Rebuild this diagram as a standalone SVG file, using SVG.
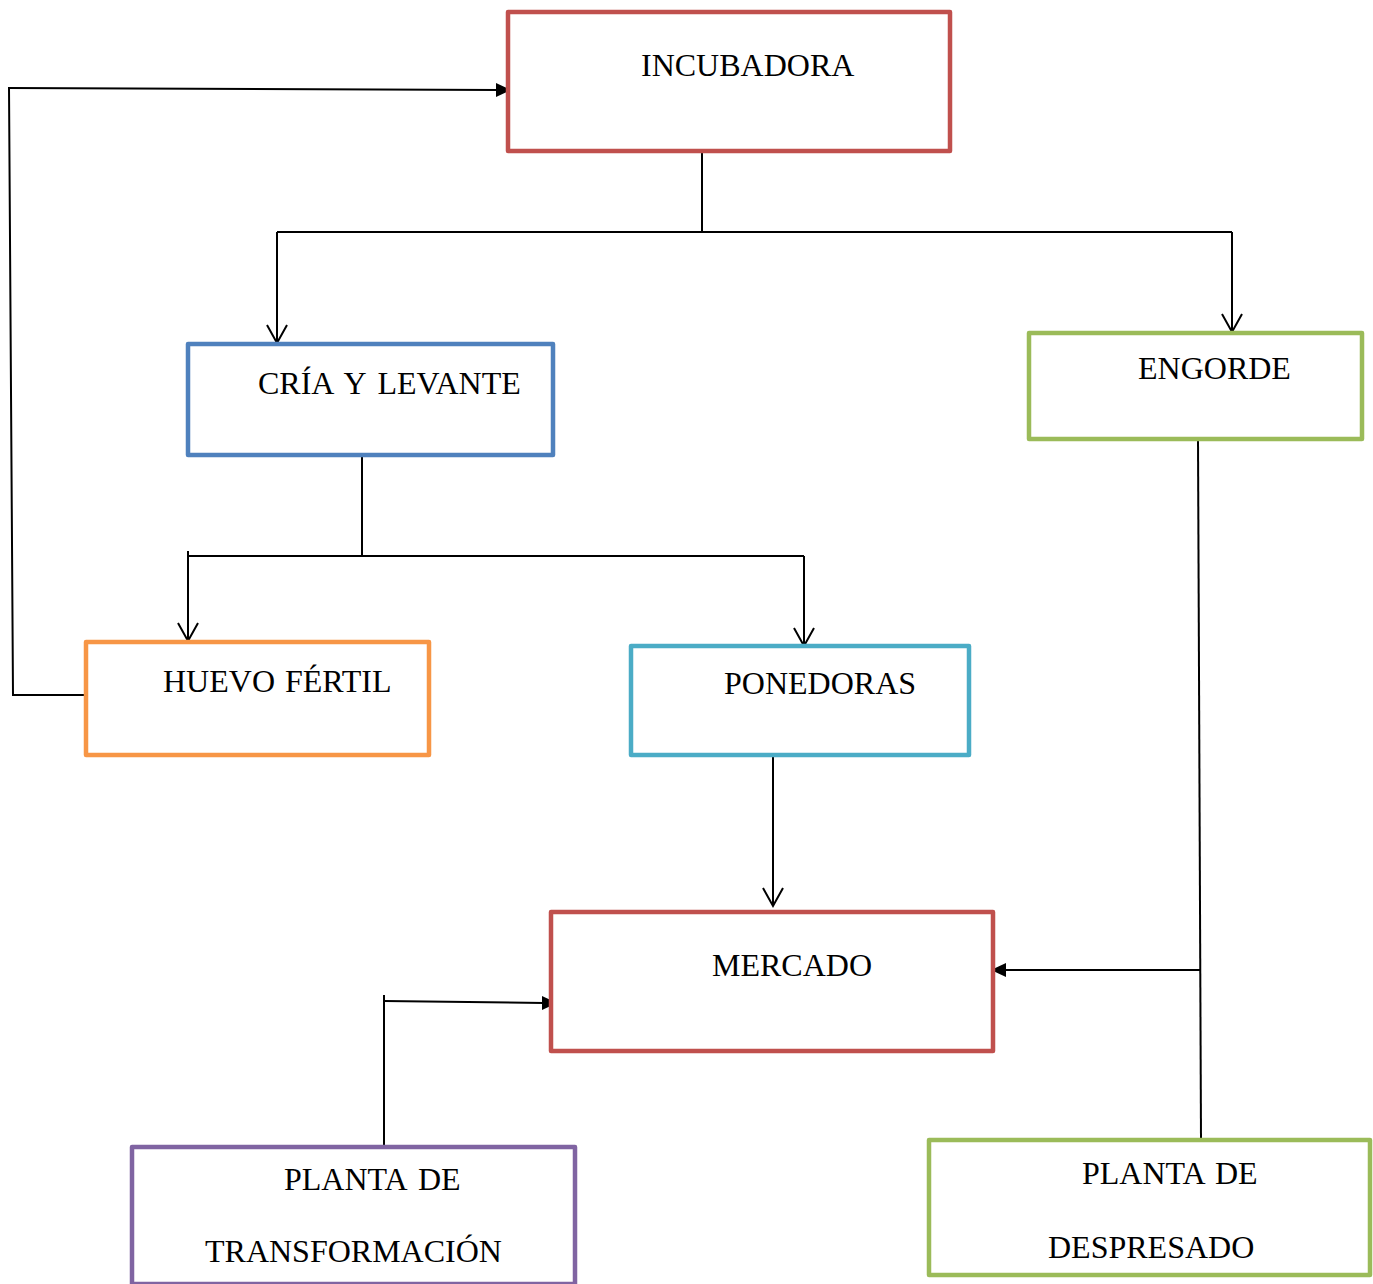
<svg xmlns="http://www.w3.org/2000/svg" width="1373" height="1284" viewBox="0 0 1373 1284">
  <style>
    .box { fill: #ffffff; stroke-width: 4.5; stroke-linejoin: round; }
    .lbl { font-family: "Liberation Serif", "Times New Roman", serif; font-size: 32px; fill: #000000; }
    .wire { fill: none; stroke: #000000; stroke-width: 2; }
    .head { fill: none; stroke: #000000; stroke-width: 2; stroke-linejoin: miter; }
    .tip { fill: #000000; stroke: none; }
  </style>
  <rect width="1373" height="1284" fill="#ffffff"/>

  <!-- connectors -->
  <g id="connectors">
    <!-- incubadora split -->
    <path class="wire" d="M702,151 V232 M277,232 H1232 M277,232 V343 M1232,232 V332"/>
    <path class="head" d="M267,325 L277,343 L287,325 M1222,314 L1232,332 L1242,314"/>
    <!-- cria y levante split -->
    <path class="wire" d="M362,455 V556 M188,556 H804 M188,551 V641 M804,556 V646"/>
    <path class="head" d="M178,623 L188,641 L198,623 M794,628 L804,646 L814,628"/>
    <!-- huevo fertil back to incubadora -->
    <path class="wire" d="M86,695 H13 L9,87"/>
    <path class="wire" d="M9,88 L498,90"/>
    <polygon class="tip" points="496,83 511,90 496,97"/>
    <!-- ponedoras to mercado -->
    <path class="wire" d="M773,755 V906"/>
    <path class="head" d="M763,888 L773,906 L783,888"/>
    <!-- engorde / despresado to mercado -->
    <path class="wire" d="M1198,439 L1201,1140"/>
    <path class="wire" d="M1200,970 H1004"/>
    <polygon class="tip" points="1006,963 991,970 1006,977"/>
    <!-- transformacion to mercado -->
    <path class="wire" d="M384,1147 V995"/>
    <path class="wire" d="M384,1001 L544,1003"/>
    <polygon class="tip" points="542,996 557,1003 542,1010"/>
  </g>

  <g id="incubadora">
    <rect class="box" x="508" y="12" width="442" height="139" stroke="#C0504D"/>
    <text class="lbl" x="641" y="76">INCUBADORA</text>
  </g>
  <g id="cria-levante">
    <rect class="box" x="188" y="344" width="365" height="111" stroke="#4F81BD"/>
    <text class="lbl" x="258" y="394" word-spacing="4">CRÍA Y LEVANTE</text>
  </g>
  <g id="engorde">
    <rect class="box" x="1029" y="333" width="333" height="106" stroke="#9BBB59"/>
    <text class="lbl" x="1138" y="379">ENGORDE</text>
  </g>
  <g id="huevo-fertil">
    <rect class="box" x="86" y="642" width="343" height="113" stroke="#F79646"/>
    <text class="lbl" x="163" y="692" word-spacing="2">HUEVO FÉRTIL</text>
  </g>
  <g id="ponedoras">
    <rect class="box" x="631" y="646" width="338" height="109" stroke="#4BACC6"/>
    <text class="lbl" x="724" y="694">PONEDORAS</text>
  </g>
  <g id="mercado">
    <rect class="box" x="551" y="912" width="442" height="139" stroke="#C0504D"/>
    <text class="lbl" x="712" y="976">MERCADO</text>
  </g>
  <g id="planta-transformacion">
    <rect class="box" x="132" y="1147" width="443" height="137" stroke="#8064A2"/>
    <text class="lbl" x="284" y="1190" word-spacing="4">PLANTA DE</text>
    <text class="lbl" x="205" y="1262">TRANSFORMACIÓN</text>
  </g>
  <g id="planta-despresado">
    <rect class="box" x="929" y="1140" width="441" height="135" stroke="#9BBB59"/>
    <text class="lbl" x="1082" y="1184" word-spacing="3">PLANTA DE</text>
    <text class="lbl" x="1048" y="1258">DESPRESADO</text>
  </g>
</svg>
